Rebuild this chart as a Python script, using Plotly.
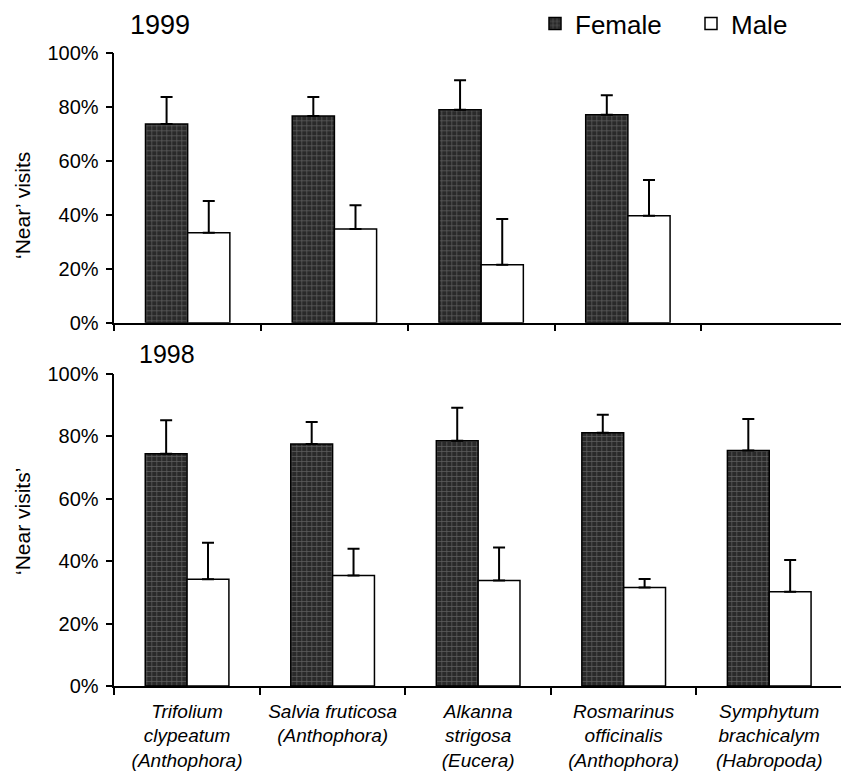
import plotly.graph_objects as go

# page offset of the plot div (body margin) is 8 px
OFF = 8
W, H = 849 - OFF, 780 - OFF


def fx(px):
    return (px - OFF) / W


def fy(py):
    return 1 - (py - OFF) / H


categories = [
    "<i>Trifolium<br>clypeatum<br>(Anthophora)</i>",
    "<i>Salvia fruticosa<br>(Anthophora)</i>",
    "<i>Alkanna<br>strigosa<br>(Eucera)</i>",
    "<i>Rosmarinus<br>officinalis<br>(Anthophora)</i>",
    "<i>Symphytum<br>brachicalym<br>(Habropoda)</i>",
]

# 1999 (top panel) - percent of 'near' visits
female_1999 = [73.8, 76.7, 79.0, 77.2, None]
female_1999_err = [10.0, 7.1, 11.0, 7.2, None]
male_1999 = [33.4, 34.8, 21.5, 39.7, None]
male_1999_err = [11.8, 8.8, 17.0, 13.3, None]

# 1998 (bottom panel)
female_1998 = [74.4, 77.6, 78.6, 81.2, 75.5]
female_1998_err = [10.8, 7.0, 10.6, 5.7, 10.1]
male_1998 = [34.2, 35.4, 33.8, 31.6, 30.2]
male_1998_err = [11.7, 8.6, 10.6, 2.7, 10.2]

y_ticks = [0, 20, 40, 60, 80, 100]
y_ticktext = ["0%", "20%", "40%", "60%", "80%", "100%"]

FONT = "Arial, Liberation Sans, sans-serif"

female_marker = dict(
    color="#2e2e2e",
    line=dict(color="black", width=1.5),
    pattern=dict(shape="+", fgcolor="#9a9a9a", bgcolor="#2a2a2a", size=5, solidity=0.25),
)
male_marker = dict(color="white", line=dict(color="black", width=1.5))


def err(arr):
    return dict(type="data", array=arr, arrayminus=[0] * len(arr), symmetric=False,
                color="black", thickness=2, width=6)


fig = go.Figure()
fig.add_trace(go.Bar(x=categories, y=female_1999, name="Female", marker=female_marker,
                     error_y=err(female_1999_err), xaxis="x", yaxis="y",
                     legendgroup="f", legend="legend"))
fig.add_trace(go.Bar(x=categories, y=male_1999, name="Male", marker=male_marker,
                     error_y=err(male_1999_err), xaxis="x", yaxis="y",
                     legendgroup="m", legend="legend2"))
fig.add_trace(go.Bar(x=categories, y=female_1998, name="Female", marker=female_marker,
                     error_y=err(female_1998_err), xaxis="x2", yaxis="y2",
                     legendgroup="f", showlegend=False))
fig.add_trace(go.Bar(x=categories, y=male_1998, name="Male", marker=male_marker,
                     error_y=err(male_1998_err), xaxis="x2", yaxis="y2",
                     legendgroup="m", showlegend=False))

axis_common = dict(showline=True, linecolor="black", linewidth=1.5, ticks="outside",
                   ticklen=7, tickwidth=1.5, tickcolor="black", showgrid=False,
                   zeroline=False, automargin=False)

yaxis_common = dict(axis_common, range=[0, 100], tickmode="array", tickvals=y_ticks,
                    ticktext=y_ticktext, ticklabelstandoff=3,
                    tickfont=dict(size=20, color="black", family=FONT))

legend_common = dict(orientation="h", xanchor="left", y=1 + 8 / H, yanchor="top",
                     font=dict(size=26, color="black", family=FONT),
                     bgcolor="rgba(0,0,0,0)", itemwidth=30, tracegroupgap=0)

fig.update_layout(
    width=W, height=H,
    margin=dict(l=0, r=0, t=0, b=0, autoexpand=False),
    paper_bgcolor="white", plot_bgcolor="white",
    font=dict(family=FONT, color="black"),
    barmode="group", bargap=0.425, bargroupgap=0,
    xaxis=dict(axis_common, domain=[fx(114.3), min(1, fx(848))], anchor="y",
               type="category", tickson="boundaries", showticklabels=False,
               range=[-0.5, 4.5]),
    yaxis=dict(yaxis_common, domain=[fy(322.7), fy(53.3)], anchor="x"),
    xaxis2=dict(axis_common, domain=[fx(114.3), fx(842)], anchor="y2",
                type="category", tickson="boundaries", range=[-0.5, 4.5],
                ticklabelstandoff=7,
                tickfont=dict(size=19, color="black", family=FONT)),
    yaxis2=dict(yaxis_common, domain=[fy(686), fy(374)], anchor="x2"),
    legend=dict(legend_common, x=fx(535)),
    legend2=dict(legend_common, x=fx(691)),
    annotations=[
        dict(text="1999", x=fx(160), y=fy(25), xref="paper", yref="paper",
             xanchor="center", yanchor="middle",
             showarrow=False, font=dict(size=27, family=FONT, color="black")),
        dict(text="1998", x=fx(167), y=fy(354), xref="paper", yref="paper",
             xanchor="center", yanchor="middle",
             showarrow=False, font=dict(size=25, family=FONT, color="black")),
        dict(text="\u2018Near\u2019 visits", x=fx(22), y=fy(206), xref="paper", yref="paper",
             xanchor="center", yanchor="middle",
             showarrow=False, textangle=-90, font=dict(size=21, family=FONT, color="black")),
        dict(text="\u2018Near visits\u2019", x=fx(22), y=fy(522), xref="paper", yref="paper",
             xanchor="center", yanchor="middle",
             showarrow=False, textangle=-90, font=dict(size=21, family=FONT, color="black")),
    ],
)

fig.write_html("out.html")
